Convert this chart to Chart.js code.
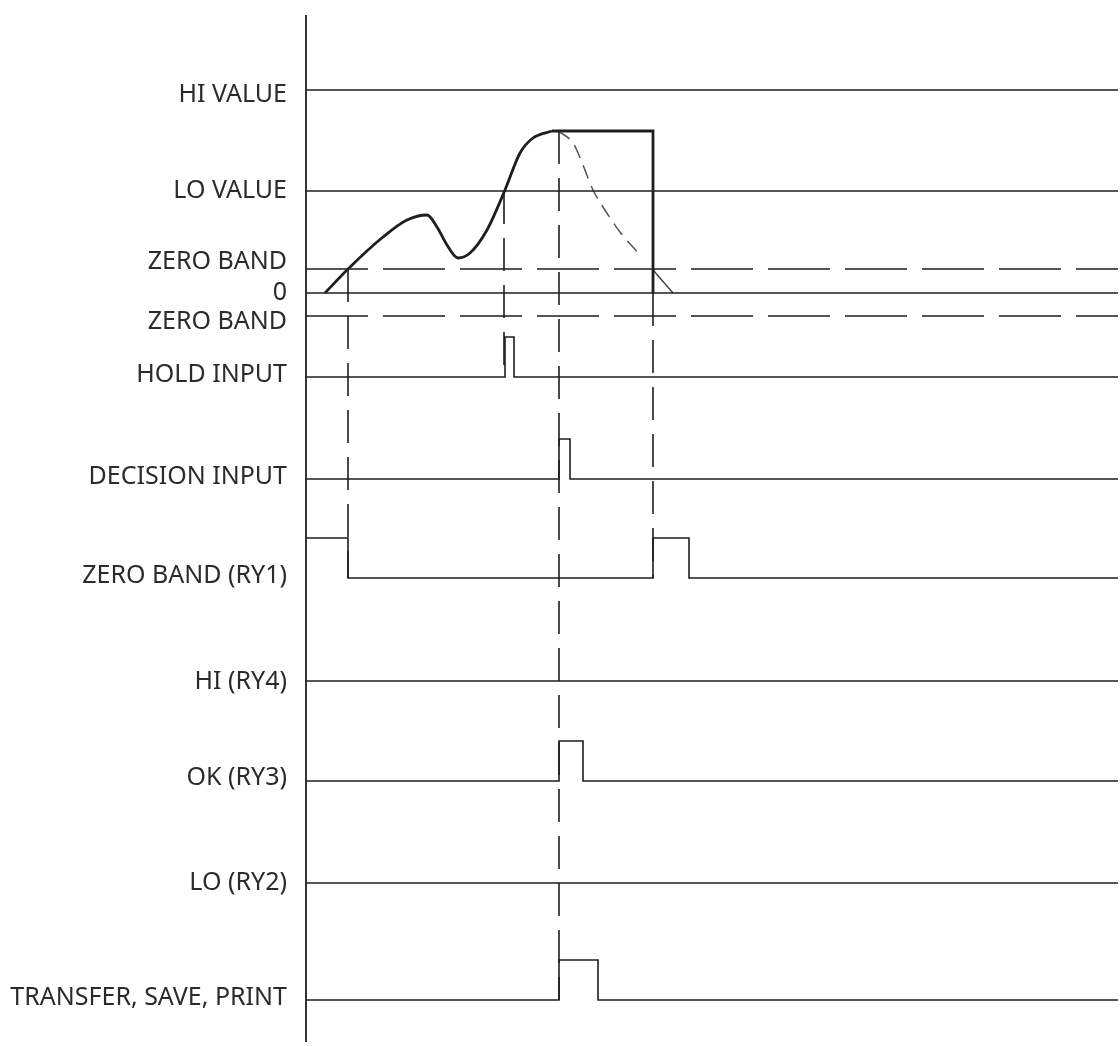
<!DOCTYPE html>
<html>
<head>
<meta charset="utf-8">
<script src="https://cdn.jsdelivr.net/npm/chart.js@4.4.1/dist/chart.umd.min.js"></script>
<style>
  body { margin: 0; background: #fff; }
</style>
</head>
<body>
<canvas id="timingChart" width="1120" height="1046"></canvas>
<script>
// row labels and where they sit on the vertical axis (diagram units, top = 0)
const rowLabels = ['HI VALUE', 'LO VALUE', 'ZERO BAND', '0', 'ZERO BAND', 'HOLD INPUT',
    'DECISION INPUT', 'ZERO BAND (RY1)', 'HI (RY4)', 'OK (RY3)', 'LO (RY2)', 'TRANSFER, SAVE, PRINT'];
const labelY = [95, 191, 262, 293, 322, 375, 477, 576, 682, 778, 883, 998];

// weight levels
const hiValue = 90;
const loValue = 191;
const zeroBandTop = 269;
const zeroLevel = 293;
const zeroBandBottom = 316;

// weight signal (time, level)
const weightT = [325, 348, 383, 407, 427, 437, 447, 458, 470, 487, 505, 520, 533, 552];
const weightV = [293, 269, 237, 220, 215, 227, 245, 258, 253, 230, 190, 153, 138, 131];
// held value after peak
const heldT = [552, 653, 653];
const heldV = [131, 131, 293];
// real (unheld) value falling off, dashed
const decayT = [558, 573, 581, 593, 603, 620, 640];
const decayV = [131, 143, 160, 190, 207, 232, 255];
const tailT = [653, 673];
const tailV = [270, 293];

// digital outputs: low level, edge times, state after each edge
const hold = { base: 377, edges: [300, 505, 514], states: [0, 1, 0] };
const decision = { base: 479, edges: [300, 559, 570], states: [0, 1, 0] };
const zeroBandRy1 = { base: 578, edges: [300, 348, 653, 689], states: [1, 0, 1, 0] };
const hiRy4 = { base: 681, edges: [300], states: [0] };
const okRy3 = { base: 781, edges: [300, 559, 583], states: [0, 1, 0] };
const loRy2 = { base: 883, edges: [300], states: [0] };
const transfer = { base: 1000, edges: [300, 559, 598], states: [0, 1, 0] };

// vertical timing markers: time, from, to
const markerT = [348, 504, 559, 653];
const markerFrom = [269, 191, 131, 293];
const markerTo = [578, 377, 1000, 578];

const startT = 306, endT = 1118;
const pulseHigh = 40;
const INK = '#1e1e1e';

function pts(xs, ys) {
    return xs.map((x, i) => ({ x: x, y: ys[i] }));
}

function stepPoints(sig) {
    const out = [];
    let prev = null;
    sig.edges.forEach((t, i) => {
        const y = sig.base - sig.states[i] * pulseHigh;
        if (prev !== null) out.push({ x: t, y: prev });
        out.push({ x: Math.max(t, startT), y: y });
        prev = y;
    });
    out.push({ x: endT, y: prev });
    return out;
}

function line(data, extra) {
    return Object.assign({
        data: data,
        borderColor: INK,
        borderWidth: 1.6,
        pointRadius: 0,
        tension: 0,
        fill: false
    }, extra || {});
}

const datasets = [];
// axis line
datasets.push(line(pts([startT, startT], [15, 1042]), { borderWidth: 1.8 }));
// level lines
datasets.push(line(pts([startT, endT], [hiValue, hiValue])));
datasets.push(line(pts([startT, endT], [loValue, loValue])));
datasets.push(line(pts([startT, endT], [zeroLevel, zeroLevel])));
datasets.push(line(pts([startT, endT], [zeroBandTop, zeroBandTop]), { borderDash: [62, 15] }));
datasets.push(line(pts([startT, endT], [zeroBandBottom, zeroBandBottom]), { borderDash: [62, 15] }));
// markers
markerT.forEach((t, i) => {
    datasets.push(line(pts([t, t], [markerFrom[i], markerTo[i]]), { borderDash: [33, 14], borderWidth: 1.6 }));
});
// weight
datasets.push(line(pts(weightT, weightV), { borderWidth: 2.8, cubicInterpolationMode: 'monotone' }));
datasets.push(line(pts(heldT, heldV), { borderWidth: 2.8 }));
datasets.push(line(pts(decayT, decayV), { borderWidth: 1.5, borderColor: '#555', borderDash: [14, 8], cubicInterpolationMode: 'monotone' }));
datasets.push(line(pts(tailT, tailV), { borderWidth: 1.5, borderColor: '#444' }));
// digital rows
[hold, decision, zeroBandRy1, hiRy4, okRy3, loRy2, transfer].forEach(sig => {
    datasets.push(line(stepPoints(sig), { borderWidth: 1.6 }));
});

const CHART = document.getElementById('timingChart');
let timingChart = new Chart(CHART, {
    type: 'line',
    data: { datasets: datasets },
    options: {
        responsive: false,
        animation: false,
        devicePixelRatio: 1,
        layout: { padding: 0 },
        plugins: { legend: { display: false }, tooltip: { enabled: false } },
        scales: {
            x: {
                type: 'linear',
                min: 300,
                max: 1120,
                display: false
            },
            y: {
                type: 'linear',
                reverse: true,
                min: 0,
                max: 1046,
                border: { display: false },
                grid: { display: false, drawTicks: false },
                afterBuildTicks: scale => {
                    scale.ticks = labelY.map(v => ({ value: v }));
                },
                afterFit: scale => {
                    scale.width = 300;
                    scale.paddingTop = 0;
                    scale.paddingBottom = 0;
                },
                ticks: {
                    autoSkip: false,
                    padding: 13,
                    color: '#2b2b2b',
                    font: { family: 'Noto Sans', size: 25 },
                    callback: (value, index) => rowLabels[index]
                }
            }
        }
    }
});
</script>
</body>
</html>
